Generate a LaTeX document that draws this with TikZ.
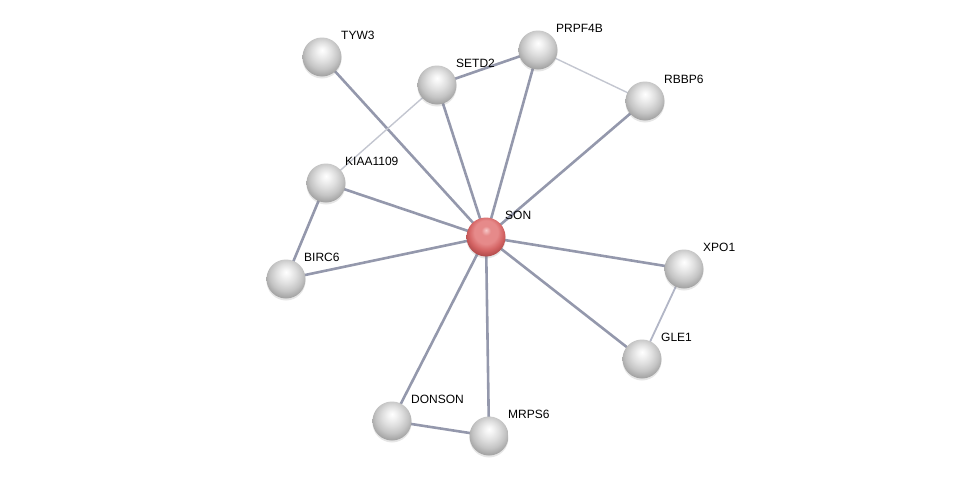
\documentclass[tikz,border=0pt]{standalone}
\usepackage{fontspec}
\setmainfont{Liberation Sans}
\usetikzlibrary{backgrounds,shadows}
\definecolor{edgedark}{HTML}{9498AC}
\definecolor{edgelight}{HTML}{C3C6D0}
\definecolor{edgemid}{HTML}{B2B6C6}
\definecolor{gA}{HTML}{F4F4F4}
\definecolor{gB}{HTML}{DEDEDE}
\definecolor{gC}{HTML}{C4C4C4}
\definecolor{gD}{HTML}{9A9A9A}
\definecolor{rA}{HTML}{F6C8C8}
\definecolor{rB}{HTML}{E68A8A}
\definecolor{rC}{HTML}{D46464}
\definecolor{rD}{HTML}{A84444}
\pgfdeclareradialshading{greysphere}{\pgfqpoint{0bp}{9bp}}{%
  color(0bp)=(white); color(5bp)=(gA); color(13bp)=(gB); color(21bp)=(gC);
  color(30bp)=(gD); color(50bp)=(gD)}
\pgfdeclareradialshading{redsphere}{\pgfqpoint{0bp}{9bp}}{%
  color(0bp)=(rA); color(6bp)=(rB); color(15bp)=(rB); color(22bp)=(rC);
  color(30bp)=(rD); color(50bp)=(rD)}
\begin{document}
\begin{tikzpicture}[x=1pt,y=-1pt,
  prot/.style={circle,minimum size=39pt,inner sep=0pt,shading=greysphere,
    drop shadow={opacity=0.2,shadow xshift=0pt,shadow yshift=-2pt}},
  sonnode/.style={prot,shading=redsphere},
  lbl/.style={anchor=base west,inner sep=0pt,font=\fontsize{12}{14}\selectfont},
  strong/.style={draw=edgedark,line width=2.6pt},
  weak/.style={draw=edgelight,line width=1.4pt},
  mid/.style={draw=edgemid,line width=1.8pt}]
\useasboundingbox (0,0) rectangle (975,482);
\node[prot] (tyw3) at (322,57) {};
\node[prot] (setd2) at (437,85) {};
\node[prot] (prpf4b) at (538,50) {};
\node[prot] (rbbp6) at (645,101) {};
\node[prot] (kiaa) at (326,183) {};
\node[sonnode] (son) at (486,237) {};
\node[prot] (birc6) at (286,279) {};
\node[prot] (xpo1) at (684,269) {};
\node[prot] (gle1) at (642,359) {};
\node[prot] (donson) at (392,421) {};
\node[prot] (mrps6) at (489,436) {};
\node[lbl] (ltyw3) at (341,39.5) {TYW3};
\node[lbl] (lsetd2) at (456,67.5) {SETD2};
\node[lbl] (lprpf4b) at (556,32.5) {PRPF4B};
\node[lbl] (lrbbp6) at (664,83.5) {RBBP6};
\node[lbl] (lkiaa) at (345,165.5) {KIAA1109};
\node[lbl] (lson) at (505,219.5) {SON};
\node[lbl] (lbirc6) at (304,261.5) {BIRC6};
\node[lbl] (lxpo1) at (703,251.5) {XPO1};
\node[lbl] (lgle1) at (661,341.5) {GLE1};
\node[lbl] (ldonson) at (411,403.5) {DONSON};
\node[lbl] (lmrps6) at (508,418.5) {MRPS6};
\begin{scope}[on background layer]
\foreach \n in {tyw3,setd2,prpf4b,rbbp6,kiaa,birc6,xpo1,gle1,donson,mrps6}
  \draw[strong] (son.center) -- (\n.center);
\draw[strong] (setd2.center) -- (prpf4b.center);
\draw[strong] (kiaa.center) -- (birc6.center);
\draw[strong] (donson.center) -- (mrps6.center);
\draw[weak] (setd2.center) -- (kiaa.center);
\draw[weak] (prpf4b.center) -- (rbbp6.center);
\draw[mid] (xpo1.center) -- (gle1.center);
\end{scope}
\end{tikzpicture}
\end{document}
